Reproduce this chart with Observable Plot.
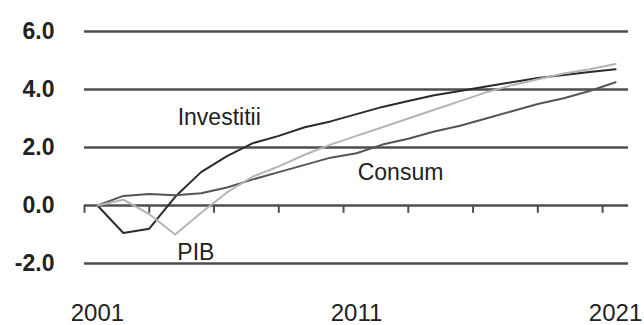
<!DOCTYPE html>
<html>
<head>
<meta charset="utf-8">
<script src="https://cdn.jsdelivr.net/npm/d3@7"></script>
<script src="https://cdn.jsdelivr.net/npm/@observablehq/plot@0.6"></script>
<style>
  html, body { margin: 0; padding: 0; background: #fff; }
  #chart svg { display: block; }
</style>
</head>
<body>
<div id="chart"></div>
<script>
const years = d3.range(2001, 2022);
const investitii = [0, -0.95, -0.8, 0.3, 1.15, 1.7, 2.15, 2.4, 2.7, 2.9, 3.15, 3.4, 3.6, 3.8, 3.95, 4.1, 4.25, 4.4, 4.5, 4.6, 4.7];
const consum     = [0, 0.33, 0.4, 0.35, 0.42, 0.62, 0.9, 1.15, 1.4, 1.65, 1.8, 2.1, 2.3, 2.55, 2.75, 3.0, 3.25, 3.5, 3.7, 3.95, 4.25];
const pib        = [0, 0.2, -0.3, -1.0, -0.25, 0.45, 1.0, 1.35, 1.75, 2.1, 2.4, 2.7, 3.0, 3.3, 3.6, 3.9, 4.15, 4.35, 4.55, 4.7, 4.88];

const seriesNames  = ["Investitii", "Consum", "PIB"];
const seriesColors = ["#2b2b2b", "#555555", "#b4b4b4"];
const labelX = [2005.7, 2012.7, 2004.8];
const labelY = [3.03, 1.14, -1.62];

const yTicks = [-2, 0, 2, 4, 6];
const xLabelTicks = [2001, 2011, 2021];
const xMinorTicks = [2000.5, 2003, 2005.5, 2008, 2010.5, 2013, 2015.5, 2018, 2020.5];

const allSeries = [investitii, consum, pib];
const rows = [];
allSeries.forEach((vals, i) => {
  vals.forEach((v, j) => rows.push({ year: years[j], value: v, series: seriesNames[i] }));
});
const labels = seriesNames.map((s, i) => ({ name: s, x: labelX[i], y: labelY[i] }));

const chart = Plot.plot({
  width: 644,
  height: 325,
  marginLeft: 84,
  marginRight: 16,
  marginTop: 31,
  marginBottom: 62,
  style: { fontFamily: "'Liberation Sans', Arial, sans-serif", color: "#222", background: "#fff" },
  x: { domain: [2000.5, 2021.5] },
  y: { domain: [-2, 6] },
  color: { domain: seriesNames, range: seriesColors },
  marks: [
    Plot.ruleY(yTicks, { stroke: "#4e4e4e", strokeWidth: 2.5 }),
    Plot.ruleX(xMinorTicks, { y1: 0, y2: -0.27, stroke: "#4e4e4e", strokeWidth: 2 }),
    Plot.line(rows, { x: "year", y: "value", z: "series", stroke: "series", strokeWidth: 2, curve: "linear" }),
    Plot.text(labels, { x: "x", y: "y", text: "name", fontSize: 23, fill: "#222" }),
    Plot.axisY({ ticks: yTicks, tickSize: 0, tickPadding: 30, tickFormat: d => d.toFixed(1), fontSize: 23, fontWeight: "bold", fill: "#222" }),
    Plot.axisX({ ticks: xLabelTicks, tickSize: 0, tickPadding: 40, tickFormat: d => String(d), fontSize: 24, fill: "#222" })
  ]
});
document.getElementById("chart").appendChild(chart);
</script>
</body>
</html>
